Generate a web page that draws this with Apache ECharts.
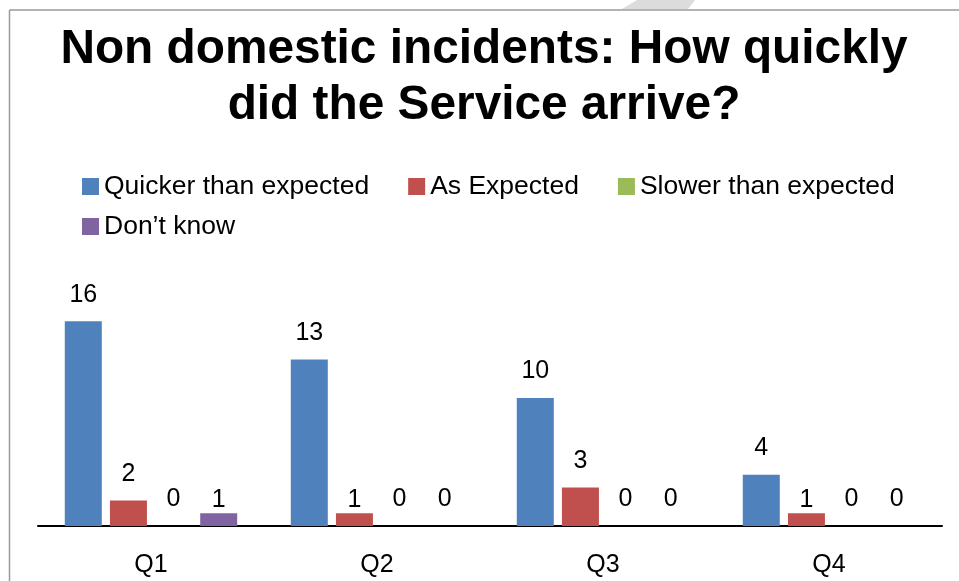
<!DOCTYPE html>
<html>
<head>
<meta charset="utf-8">
<script src="https://cdn.jsdelivr.net/npm/echarts@6/dist/echarts.min.js"></script>
<style>
html,body{margin:0;padding:0;background:#fff;}
#chart{width:959px;height:581px;}
</style>
</head>
<body>
<div id="chart"></div>
<script>
const titleText = 'Non domestic incidents: How quickly\ndid the Service arrive?';
const categories = ['Q1', 'Q2', 'Q3', 'Q4'];
const seriesNames = ['Quicker than expected', 'As Expected', 'Slower than expected', 'Don\u2019t know'];
const quicker = [16, 13, 10, 4];
const asExpected = [2, 1, 3, 1];
const slower = [0, 0, 0, 0];
const dontKnow = [1, 0, 0, 0];
const colors = ['#4F81BD', '#C0504D', '#9BBB59', '#8064A2'];

const FONT = '"Liberation Sans", Arial, sans-serif';

// small bars (value 1) have their labels lowered to the level of zero labels, as in the reference
function buildData(values) {
  return values.map(v => v === 1 ? { value: v, label: { offset: [0, 13] } } : v);
}

const allValues = [quicker, asExpected, slower, dontKnow];

const chart = echarts.init(document.getElementById('chart'), null, { renderer: 'canvas' });
chart.setOption({
  animation: false,
  backgroundColor: '#fff',
  color: colors,
  title: {
    text: titleText,
    left: 484,
    textAlign: 'center',
    top: 22,
    padding: 0,
    textStyle: {
      fontFamily: FONT,
      fontSize: 47.8,
      fontWeight: 'bold',
      color: '#000',
      lineHeight: 56
    }
  },
  graphic: [
    { type: 'polygon', shape: { points: [[637, 0], [695, 0], [688, 9], [622, 9]] }, style: { fill: '#dcdcdc' }, silent: true },
    { type: 'line', shape: { x1: 9.5, y1: 10, x2: 959, y2: 10 }, style: { stroke: '#9a9a9a', lineWidth: 1.5 }, silent: true },
    { type: 'line', shape: { x1: 9.5, y1: 10, x2: 9.5, y2: 581 }, style: { stroke: '#9a9a9a', lineWidth: 1.5 }, silent: true }
  ],
  legend: [
    {
      data: seriesNames.slice(0, 3),
      left: 82,
      top: 173,
      padding: 0,
      orient: 'horizontal',
      itemWidth: 17,
      itemHeight: 17,
      itemGap: 39,
      icon: 'rect',
      textStyle: { fontFamily: FONT, fontSize: 26.5, color: '#000' }
    },
    {
      data: seriesNames.slice(3),
      left: 82,
      top: 213,
      padding: 0,
      orient: 'horizontal',
      itemWidth: 17,
      itemHeight: 17,
      icon: 'rect',
      textStyle: { fontFamily: FONT, fontSize: 26.5, color: '#000' }
    }
  ],
  grid: { left: 38, right: 17, top: 270, bottom: 55, containLabel: false },
  xAxis: {
    type: 'category',
    data: categories,
    axisLine: { show: true, lineStyle: { color: '#000', width: 2 } },
    axisTick: { show: false },
    axisLabel: { margin: 27, fontFamily: FONT, fontSize: 25, color: '#000' }
  },
  yAxis: {
    type: 'value',
    min: 0,
    max: 20,
    show: false,
    splitLine: { show: false }
  },
  series: seriesNames.map((name, i) => ({
    name: name,
    type: 'bar',
    barWidth: 37,
    barGap: '22%',
    data: buildData(allValues[i]),
    itemStyle: { color: colors[i] },
    label: {
      show: true,
      position: 'top',
      distance: 14,
      fontFamily: FONT,
      fontSize: 25,
      color: '#000'
    }
  }))
});
</script>
</body>
</html>
